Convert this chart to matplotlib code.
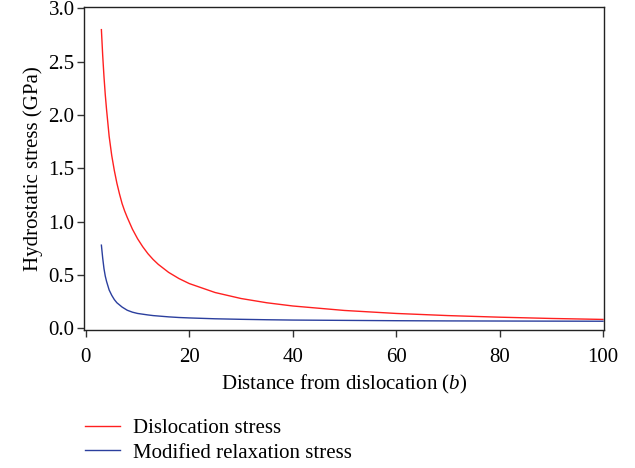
import matplotlib
matplotlib.use("Agg")
import matplotlib.pyplot as plt

# values
distance = [3, 3.25, 3.5, 3.75, 4, 4.5, 5, 5.5, 6, 6.5, 7, 7.5, 8, 9, 10, 11, 12,
            13, 14, 16, 18, 20, 25, 30, 35, 40, 50, 60, 70, 80, 90, 100]
dislocation_stress = [2.80, 2.56, 2.36, 2.19, 2.05, 1.80, 1.62, 1.48, 1.36, 1.26,
                      1.17, 1.10, 1.04, 0.93, 0.84, 0.765, 0.70, 0.646, 0.60,
                      0.525, 0.467, 0.42, 0.336, 0.28, 0.24, 0.21, 0.168, 0.14,
                      0.12, 0.105, 0.093, 0.084]
relaxation_stress = [0.78, 0.66, 0.56, 0.49, 0.44, 0.36, 0.31, 0.27, 0.24, 0.22,
                     0.20, 0.185, 0.17, 0.152, 0.14, 0.133, 0.126, 0.12, 0.116,
                     0.108, 0.102, 0.098, 0.09, 0.085, 0.081, 0.078, 0.075, 0.072,
                     0.070, 0.069, 0.068, 0.067]

xticks = [0, 20, 40, 60, 80, 100]
yticks = [0.0, 0.5, 1.0, 1.5, 2.0, 2.5, 3.0]

plt.rcParams["font.family"] = ["Liberation Serif", "DejaVu Serif"]
plt.rcParams["mathtext.fontset"] = "custom"
plt.rcParams["mathtext.it"] = "Liberation Serif:italic"
plt.rcParams["mathtext.rm"] = "Liberation Serif"

fs = 15

fig = plt.figure(figsize=(6.35, 4.68), dpi=100)
ax = fig.add_axes([0.1328, 0.2949, 0.9512 - 0.1328, 0.9857 - 0.2949])

ax.plot(distance, dislocation_stress, color="#ff2020", lw=1.0, label="Dislocation stress")
ax.plot(distance, relaxation_stress, color="#2b3f9e", lw=1.0, label="Modified relaxation stress")

ax.set_xlim(-0.3, 100.2)
ax.set_ylim(-0.015, 3.015)
ax.set_xticks(xticks)
ax.set_yticks(yticks)
ax.set_yticklabels([f"{v:.1f}" for v in yticks])
ax.tick_params(direction="out", length=5, width=1.0, labelsize=fs, pad=2, color="#333333")
ax.tick_params(axis="x", pad=8)
for s in ax.spines.values():
    s.set_linewidth(1.0)
    s.set_color("#222222")

ax.set_xlabel("Distance from dislocation ($\\mathit{b}$)", fontsize=fs, labelpad=4)
ax.set_ylabel("Hydrostatic stress (GPa)", fontsize=fs, labelpad=4)

handles, labels = ax.get_legend_handles_labels()
fig.legend(handles, labels, loc="upper left", bbox_to_anchor=(0.120, 0.124),
           bbox_transform=fig.transFigure, frameon=False, fontsize=fs,
           handlelength=1.7, handletextpad=0.65, labelspacing=0.25, borderaxespad=0)

fig.savefig("out.png", dpi=100)
